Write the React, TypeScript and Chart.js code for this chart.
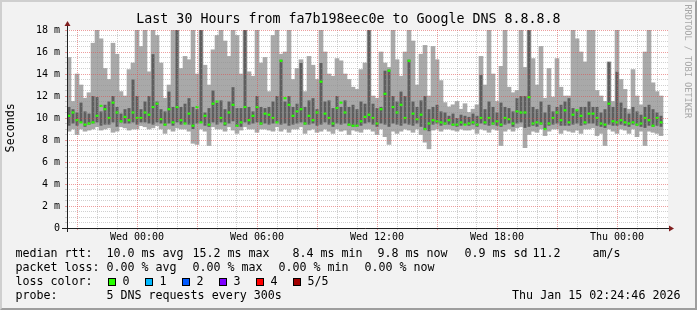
import React, { useEffect, useRef } from 'react';
import { Chart, registerables } from 'chart.js';

Chart.register(...registerables);

// Time axis: hours relative to Wed 00:00
const START_HOUR = -3.5;
const END_HOUR = 26.55;
const BIN_HOURS = 0.2;

// Smoke: min..max of the pings (light), inner pings (dark), median (green). Values in ms.
const rttMax = [
  15.5, 11.5, 14.0, 13.0, 11.8, 12.3, 16.8, 18.0, 17.2, 14.5, 13.5, 16.8, 15.8, 12.4, 12.0, 14.4, 15.0, 18.0, 16.5, 18.0, 14.2, 18.0, 17.5, 15.0, 11.8,
  13.0, 18.0, 18.0, 14.5, 15.6, 15.3, 18.0, 14.0, 18.0, 14.8, 13.0, 16.2, 17.5, 18.0, 17.0, 15.6, 18.0, 17.5, 14.0, 18.0, 14.2, 13.8, 18.0, 15.0, 15.5,
  12.4, 17.5, 18.0, 15.8, 16.0, 18.0, 13.5, 14.5, 15.3, 12.4, 15.6, 14.8, 13.5, 18.0, 16.0, 14.0, 13.8, 15.4, 15.2, 14.0, 13.5, 12.8, 12.6, 14.4, 15.0,
  18.0, 12.0, 11.8, 16.0, 15.0, 14.6, 18.0, 15.3, 13.8, 16.0, 18.0, 17.0, 13.0, 15.8, 16.6, 12.0, 16.5, 15.3, 13.4, 11.4, 11.0, 11.2, 11.5, 10.8, 11.3,
  10.5, 10.8, 11.2, 15.6, 13.0, 18.0, 14.0, 11.5, 14.7, 18.0, 12.8, 12.3, 12.5, 18.0, 14.6, 18.0, 15.4, 13.0, 16.5, 11.8, 14.5, 11.9, 15.4, 12.8, 12.0,
  12.0, 18.0, 17.2, 16.0, 15.1, 18.0, 18.0, 12.5, 12.0, 11.5, 15.1, 11.5, 18.0, 13.5, 12.6, 10.8, 14.4, 12.0, 11.2, 16.0, 18.0, 13.2, 12.4, 12.0,
];
const rttHigh = [
  11.0, 10.8, 10.5, 11.4, 10.6, 10.4, 12.0, 11.9, 10.6, 11.2, 11.5, 12.0, 11.0, 10.4, 10.8, 10.9, 13.5, 12.0, 10.8, 11.5, 12.0, 15.8, 11.5, 10.8, 10.6,
  12.4, 11.0, 18.0, 11.0, 11.3, 11.8, 11.0, 10.8, 18.0, 10.5, 10.9, 12.5, 11.4, 11.6, 10.8, 11.5, 12.8, 10.9, 10.9, 18.0, 11.0, 10.6, 12.0, 11.0, 10.9,
  11.0, 11.5, 12.0, 15.3, 11.5, 12.0, 11.0, 11.3, 15.0, 11.0, 11.6, 11.8, 10.8, 15.0, 11.5, 11.6, 10.9, 12.0, 11.0, 11.6, 11.0, 11.2, 10.8, 11.5, 11.3,
  18.0, 11.3, 10.9, 11.0, 14.3, 14.4, 12.0, 11.5, 12.4, 12.0, 15.3, 11.5, 11.0, 11.6, 12.0, 10.8, 11.0, 11.2, 10.6, 10.5, 10.2, 10.4, 10.0, 10.3, 10.2,
  10.1, 10.4, 10.2, 13.9, 10.8, 11.5, 11.0, 10.5, 11.4, 11.0, 10.9, 10.6, 11.8, 12.0, 12.0, 18.0, 11.0, 10.8, 11.5, 10.5, 11.2, 10.6, 11.0, 11.2, 11.5,
  11.8, 10.9, 10.7, 11.0, 11.0, 11.5, 11.0, 11.0, 10.5, 10.8, 15.1, 11.0, 14.2, 11.4, 10.9, 10.4, 11.0, 10.6, 10.3, 11.0, 11.2, 10.8, 10.5, 10.2,
];
const rttLow = [
  9.3, 9.5, 9.3, 9.6, 9.2, 9.4, 9.5, 9.6, 9.3, 9.4, 9.4, 9.6, 9.2, 9.6, 9.5, 9.5, 9.6, 9.4, 9.6, 9.6, 9.5, 9.4, 9.6, 9.5, 9.3,
  9.5, 9.3, 9.6, 9.4, 9.5, 9.4, 9.0, 9.5, 9.6, 9.3, 9.2, 9.6, 9.4, 9.6, 9.3, 9.5, 9.7, 9.2, 9.2, 9.6, 9.4, 9.5, 9.6, 9.4, 9.5,
  9.4, 9.5, 9.6, 9.4, 9.5, 9.3, 9.4, 9.5, 9.6, 9.4, 9.4, 9.5, 9.3, 9.4, 9.6, 9.4, 9.2, 9.5, 9.4, 9.5, 9.3, 9.2, 9.2, 9.3, 9.5,
  9.6, 9.4, 9.2, 9.5, 9.4, 9.2, 9.5, 9.4, 9.3, 9.5, 9.4, 9.3, 9.5, 9.2, 8.9, 8.8, 9.4, 9.5, 9.3, 9.4, 9.4, 9.3, 9.2, 9.3, 9.4,
  9.3, 9.4, 9.2, 9.5, 9.4, 9.3, 9.4, 9.3, 9.2, 9.4, 9.5, 9.2, 9.5, 9.6, 9.1, 9.2, 9.3, 9.2, 9.4, 9.0, 9.3, 9.4, 9.5, 9.3, 9.3,
  9.3, 9.4, 9.5, 9.3, 9.4, 9.5, 9.5, 9.3, 9.2, 9.1, 9.4, 9.3, 9.3, 9.4, 9.3, 9.2, 9.4, 9.3, 9.2, 9.1, 9.3, 9.2, 9.3, 9.2,
];
const rttMin = [
  8.8, 9.0, 8.5, 9.0, 8.8, 8.9, 9.0, 9.2, 8.9, 9.0, 9.1, 8.7, 8.8, 9.2, 9.1, 8.9, 9.0, 9.0, 9.3, 9.2, 9.0, 9.1, 9.3, 9.0, 8.6,
  9.0, 8.8, 9.1, 9.0, 9.0, 8.8, 7.7, 7.6, 9.0, 8.8, 7.5, 9.2, 9.0, 9.0, 8.8, 9.2, 8.9, 8.6, 8.9, 9.2, 9.0, 9.0, 8.7, 9.0, 9.0,
  8.9, 8.8, 9.2, 8.8, 9.0, 8.7, 9.0, 9.0, 9.2, 8.6, 8.9, 9.0, 8.7, 8.8, 9.0, 8.8, 8.6, 9.0, 8.8, 8.9, 8.5, 8.9, 8.8, 8.7, 9.0,
  9.0, 8.8, 8.5, 9.0, 8.3, 7.6, 8.8, 8.6, 8.8, 9.0, 8.9, 8.7, 9.0, 8.5, 7.8, 7.2, 8.9, 9.0, 8.8, 9.0, 9.0, 8.9, 8.8, 9.0, 8.9,
  8.9, 9.0, 8.6, 9.0, 8.9, 8.7, 9.0, 8.9, 7.5, 8.8, 9.0, 8.8, 9.1, 9.2, 7.3, 8.5, 8.8, 8.7, 9.0, 8.4, 8.8, 9.0, 9.0, 8.6, 8.9,
  8.8, 8.7, 8.9, 8.6, 9.0, 9.0, 9.1, 8.4, 8.6, 7.5, 9.0, 8.8, 8.6, 9.0, 8.9, 8.6, 9.0, 8.3, 8.8, 7.5, 8.8, 8.7, 8.6, 8.4,
];
const rttMedian = [
  10.2, 10.5, 9.8, 9.6, 9.4, 9.5, 9.6, 10.2, 11.1, 10.8, 10.0, 11.4, 10.5, 9.7, 10.1, 9.8, 10.5, 10.0, 10.0, 10.5, 10.3, 11.0, 11.3, 9.9, 9.4,
  10.8, 9.6, 11.0, 9.8, 9.5, 10.4, 9.3, 11.0, 9.6, 10.2, 9.4, 11.3, 11.5, 10.0, 9.5, 10.5, 11.2, 9.3, 9.6, 11.0, 9.8, 10.2, 11.0, 9.5, 10.4,
  10.3, 10.0, 9.6, 15.2, 11.8, 11.2, 10.2, 10.6, 10.8, 9.5, 10.2, 9.8, 10.5, 13.3, 10.4, 10.0, 9.5, 10.9, 11.4, 10.5, 9.4, 9.3, 9.3, 9.7, 10.1,
  10.3, 10.0, 9.5, 10.8, 12.2, 14.3, 11.0, 10.5, 11.2, 10.0, 15.2, 10.4, 9.9, 10.3, 9.0, 9.5, 9.8, 9.7, 9.6, 9.5, 9.8, 9.4, 9.4, 9.6, 9.4,
  9.5, 9.6, 9.4, 10.0, 9.6, 10.0, 9.5, 9.7, 9.4, 10.0, 9.9, 9.5, 10.6, 10.5, 10.5, 11.9, 9.5, 9.6, 9.5, 9.0, 9.5, 10.0, 10.5, 9.8, 10.7,
  9.6, 10.3, 10.7, 10.2, 9.6, 10.4, 10.4, 10.0, 9.5, 9.4, 11.3, 9.7, 9.6, 9.8, 9.6, 9.5, 9.6, 9.4, 9.5, 10.0, 9.8, 9.3, 10.0, 9.6,
];

const xTickLabelHours = [0, 6, 12, 18, 24];
const xTickLabels = ['Wed 00:00', 'Wed 06:00', 'Wed 12:00', 'Wed 18:00', 'Thu 00:00'];
const yTickLabelValues = [0, 2, 4, 6, 8, 10, 12, 14, 16, 18];
const yTickLabels = ['0', '2 m', '4 m', '6 m', '8 m', '10 m', '12 m', '14 m', '16 m', '18 m'];

const titleText = 'Last 30 Hours from fa7b198eec0e to Google DNS 8.8.8.8';
const medianRow = [
  [16, 'median rtt:'], [107, '10.0 ms avg'], [193, '15.2 ms max'], [293, '8.4 ms min'],
  [378, '9.8 ms now'], [465, '0.9 ms sd'], [533, '11.2'], [593, 'am/s'],
];
const lossRow = [
  [16, 'packet loss:'], [107, '0.00 % avg'], [193, '0.00 % max'], [279, '0.00 % min'], [365, '0.00 % now'],
];
const lossLabels = ['0', '1', '2', '3', '4', '5/5'];
const lossColors = ['#26ff00', '#00b8ff', '#0059ff', '#7e00ff', '#ff0000', '#a10000'];
const probeText = '5 DNS requests every 300s';
const stampText = 'Thu Jan 15 02:24:46 2026';

const MONO = '"DejaVu Sans Mono", monospace';
const MAJOR = 'rgba(222,79,79,0.55)';
const MINOR = 'rgba(143,143,143,0.42)';

const framePlugin = {
  id: 'rrdFrame',
  beforeDraw(chart: any) {
    const { ctx, chartArea: a } = chart;
    ctx.save();
    ctx.fillStyle = '#ffffff';
    ctx.fillRect(a.left, a.top, a.right - a.left, a.bottom - a.top);
    ctx.restore();
  },
  afterDraw(chart: any) {
    const { ctx, chartArea: a } = chart;
    ctx.save();
    ctx.strokeStyle = '#1f1f1f';
    ctx.lineWidth = 1;
    ctx.beginPath();
    ctx.moveTo(a.left - 5, a.bottom + 0.5);
    ctx.lineTo(a.right + 1, a.bottom + 0.5);
    ctx.moveTo(a.left + 0.5, a.bottom + 4);
    ctx.lineTo(a.left + 0.5, a.top - 4);
    ctx.stroke();
    ctx.fillStyle = '#801f1f';
    ctx.beginPath();
    ctx.moveTo(a.left - 2.5, a.top - 4);
    ctx.lineTo(a.left + 3.5, a.top - 4);
    ctx.lineTo(a.left + 0.5, a.top - 9);
    ctx.closePath();
    ctx.fill();
    ctx.beginPath();
    ctx.moveTo(a.right + 1, a.bottom - 2.5);
    ctx.lineTo(a.right + 1, a.bottom + 3.5);
    ctx.lineTo(a.right + 6, a.bottom + 0.5);
    ctx.closePath();
    ctx.fill();
    ctx.restore();
  },
};

function textAt(left: number, baseline: number, size: number, text: string, extra: any = {}) {
  return (
    <div
      key={`${left}-${baseline}-${text}`}
      style={{
        position: 'absolute',
        left,
        top: baseline - 0.846 * size,
        fontSize: size,
        lineHeight: `${size}px`,
        fontFamily: MONO,
        whiteSpace: 'pre',
        color: '#000',
        ...extra,
      }}
    >
      {text}
    </div>
  );
}

export default function App() {
  const canvasRef = useRef<HTMLCanvasElement | null>(null);

  useEffect(() => {
    const canvas = canvasRef.current;
    if (!canvas) return;
    const centers = rttMax.map((_, i) => START_HOUR + BIN_HOURS * (i + 0.5));
    const common = {
      type: 'bar' as const,
      borderWidth: 0,
      categoryPercentage: 1,
      grouped: false,
    };
    const chart = new Chart(canvas, {
      type: 'bar',
      data: {
        datasets: [
          {
            ...common,
            label: 'min-max',
            data: centers.map((x, i) => ({ x, y: [rttMin[i], rttMax[i]] })),
            backgroundColor: '#a9a9a9',
            barPercentage: 1,
            order: 3,
          },
          {
            ...common,
            label: 'inner',
            data: centers.map((x, i) => ({ x, y: [rttLow[i], rttHigh[i]] })),
            backgroundColor: '#5e5e5e',
            barPercentage: 0.75,
            order: 2,
          },
          {
            ...common,
            label: 'median',
            data: centers.map((x, i) => ({ x, y: [rttMedian[i] - 0.1, rttMedian[i] + 0.1] })),
            backgroundColor: '#26ff00',
            barPercentage: 0.75,
            order: 1,
          },
        ] as any,
      },
      options: {
        responsive: false,
        animation: false,
        events: [],
        layout: { padding: { left: 0, top: 30, right: 29, bottom: 0 } },
        plugins: { legend: { display: false }, tooltip: { enabled: false }, title: { display: false } },
        scales: {
          x: {
            type: 'linear',
            min: START_HOUR,
            max: END_HOUR,
            offset: false,
            afterBuildTicks: (s: any) => {
              const t = [];
              for (let h = -3; h <= 26; h++) t.push({ value: h });
              s.ticks = t;
            },
            afterFit: (s: any) => { s.height = 82; },
            grid: {
              offset: false,
              z: 1,
              lineWidth: 1,
              tickLength: 2,
              color: (c: any) => (((c.tick.value % 3) + 3) % 3 === 0 ? MAJOR : MINOR),
            },
            border: { display: false, dash: [1, 1] },
            ticks: {
              autoSkip: false,
              maxRotation: 0,
              padding: 1,
              color: '#000',
              font: { family: 'DejaVu Sans Mono', size: 10 },
              callback: (v: any) => {
                const k = xTickLabelHours.indexOf(Number(v));
                return k >= 0 ? xTickLabels[k] : '';
              },
            },
          },
          y: {
            type: 'linear',
            min: 0,
            max: 18,
            afterBuildTicks: (s: any) => {
              const t = [];
              for (let v = 0; v <= 18; v += 0.5) t.push({ value: v });
              s.ticks = t;
            },
            afterFit: (s: any) => { s.width = 67; },
            grid: {
              z: 1,
              lineWidth: 1,
              tickLength: 2,
              color: (c: any) => (c.tick.value % 2 === 0 ? MAJOR : MINOR),
            },
            border: { display: false, dash: [1, 1] },
            ticks: {
              autoSkip: false,
              padding: 5,
              color: '#000',
              font: { family: 'DejaVu Sans Mono', size: 10 },
              callback: (v: any) => {
                const k = yTickLabelValues.indexOf(Number(v));
                return k >= 0 ? yTickLabels[k] : '';
              },
            },
          },
        },
      } as any,
      plugins: [framePlugin],
    });
    return () => chart.destroy();
  }, []);

  const legendSize = 11.67;
  return (
    <div
      style={{
        position: 'fixed',
        left: 0,
        top: 0,
        width: 697,
        height: 310,
        background: '#f2f2f2',
        overflow: 'hidden',
      }}
    >
      <canvas
        ref={canvasRef}
        width={697}
        height={310}
        style={{ position: 'absolute', left: 0, top: 0, width: 697, height: 310 }}
      />
      <div
        style={{
          position: 'absolute',
          left: 0,
          top: 0,
          width: 697,
          height: 310,
          boxSizing: 'border-box',
          borderTop: '2px solid #cfcfcf',
          borderLeft: '2px solid #cfcfcf',
          borderRight: '2px solid #9e9e9e',
          borderBottom: '2px solid #9e9e9e',
          pointerEvents: 'none',
        }}
      />
      {textAt(0, 23.3, 13.3, titleText, { width: 697, textAlign: 'center' })}
      <div
        style={{
          position: 'absolute',
          left: 10.5 - 50,
          top: 128 - legendSize / 2,
          width: 100,
          height: legendSize,
          lineHeight: `${legendSize}px`,
          fontSize: legendSize,
          fontFamily: MONO,
          textAlign: 'center',
          transform: 'rotate(-90deg)',
          color: '#000',
        }}
      >
        Seconds
      </div>
      <div
        style={{
          position: 'absolute',
          left: 687.5 - 70,
          top: 61 - 4.3,
          width: 140,
          height: 8.6,
          lineHeight: '8.6px',
          fontSize: 8.6,
          fontFamily: MONO,
          textAlign: 'center',
          transform: 'rotate(90deg)',
          color: '#a8a8a8',
          whiteSpace: 'pre',
        }}
      >
        RRDTOOL / TOBI OETIKER
      </div>
      {medianRow.map(([x, t]) => textAt((x as number) - 0.6, 258.3, legendSize, t as string))}
      {lossRow.map(([x, t]) => textAt((x as number) - 0.6, 272.3, legendSize, t as string))}
      {textAt(15.4, 286.3, legendSize, 'loss color:')}
      {lossLabels.map((lab, i) => (
        <React.Fragment key={lab}>
          <div
            style={{
              position: 'absolute',
              left: 108 + 37 * i,
              top: 278,
              width: 6,
              height: 6,
              border: '1px solid #000',
              background: lossColors[i],
            }}
          />
          {textAt(122.4 + 37 * i, 286.3, legendSize, lab)}
        </React.Fragment>
      ))}
      {textAt(15.4, 300.3, legendSize, 'probe:')}
      {textAt(106.4, 300.3, legendSize, probeText)}
      {textAt(0, 300.3, legendSize, stampText, { left: 'auto', right: 697 - 680.5 })}
    </div>
  );
}
